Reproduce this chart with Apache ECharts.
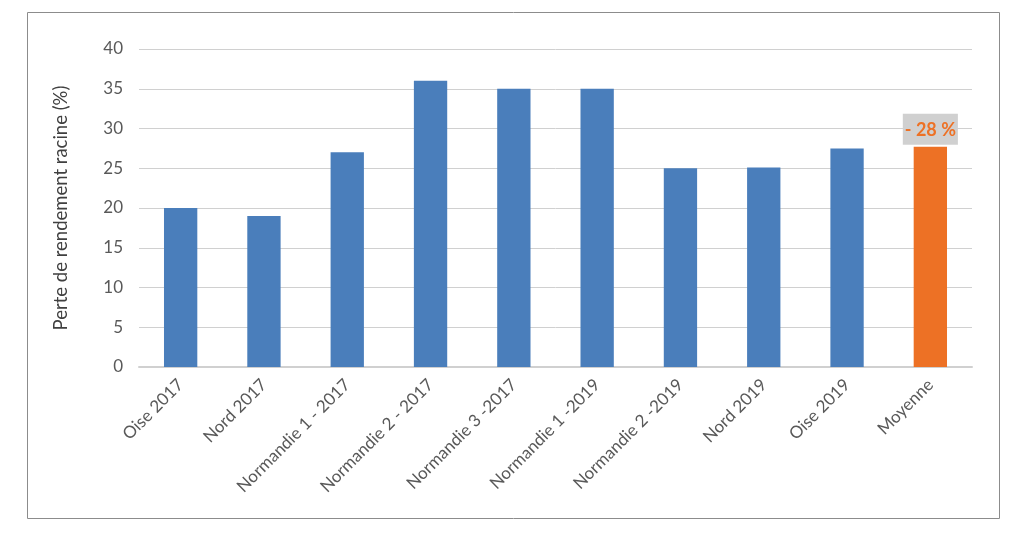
<!DOCTYPE html>
<html><head><meta charset="utf-8">
<script src="https://cdn.jsdelivr.net/npm/echarts@6/dist/echarts.min.js"></script>
<style>html,body{margin:0;padding:0;background:#fff}#c{width:1024px;height:536px}</style>
</head><body><div id="c"></div>
<script>
const categories = ["Oise 2017","Nord 2017","Normandie 1 - 2017","Normandie 2 - 2017","Normandie 3 -2017","Normandie 1 -2019","Normandie 2 -2019","Nord 2019","Oise 2019","Moyenne"];
const values = [20, 19, 27, 36, 35, 35, 25, 25.1, 27.5, 27.7];
const averageLabel = "- 28 %";
const yAxisTitle = "Perte de rendement racine (%)";

const font = "Lato, 'Open Sans', sans-serif";
const chart = echarts.init(document.getElementById('c'));
chart.setOption({
  animation: false,
  graphic: [{type:'rect', shape:{x:27.5,y:12.5,width:972,height:506}, style:{fill:'none', stroke:'#8c8c8c', lineWidth:1}}],
  grid: {left:139, right:52, top:49, bottom:169},
  xAxis: {
    type:'category', data: categories,
    axisLine:{lineStyle:{color:'#d0d0d0', width:2}},
    axisTick:{show:false},
    axisLabel:{rotate:45, color:'#595959', fontSize:17, fontFamily:font, interval:0, margin:15}
  },
  yAxis: {
    type:'value', min:0, max:40, interval:5,
    name: yAxisTitle, nameLocation:'middle', nameGap:68, nameRotate:90,
    nameTextStyle:{color:'#404040', fontSize:18.5, fontFamily:font},
    axisLine:{show:false}, axisTick:{show:false},
    axisLabel:{color:'#595959', fontSize:17, fontFamily:font, margin:16},
    splitLine:{lineStyle:{color:'#d0d0d0', width:1}}
  },
  series: [{
    type:'bar', barWidth:'40%',
    data: values.map((v,i)=> i===values.length-1 ? {
      value:v, itemStyle:{color:'#ed7125'},
      label:{show:true, position:'top', distance:2, formatter:averageLabel, color:'#ed7125', fontWeight:'bold', fontSize:18, fontFamily:font, backgroundColor:'#d0d0d0', padding:[7,2,6,2]}
    } : {value:v, itemStyle:{color:'#4a7ebb'}})
  }]
});
</script></body></html>
